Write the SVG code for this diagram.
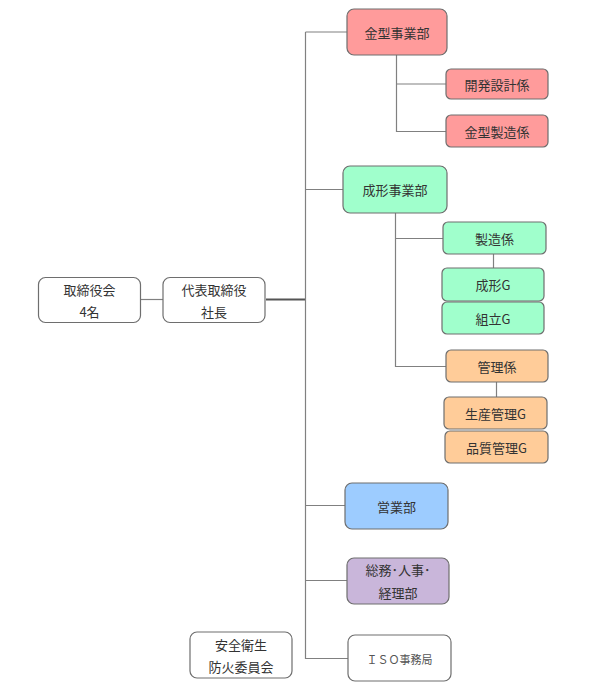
<svg xmlns="http://www.w3.org/2000/svg" width="590" height="691" viewBox="0 0 590 691">
<style>
.b{stroke:#6e6e6e;stroke-width:1.2}
.w{fill:#ffffff}
.r{fill:#ff9b9b}
.g{fill:#a0ffcc}
.o{fill:#ffcc99}
.u{fill:#9dccff}
.p{fill:#c9b6da}
text{font-family:"Noto Sans CJK JP","Noto Sans",sans-serif;font-size:13px;fill:#333;text-anchor:middle;dominant-baseline:central}
.c{fill:none;stroke:#808080;stroke-width:1.2}
</style>
<rect width="590" height="691" fill="#ffffff"/>
<g id="connectors">
<path class="c" d="M141 299.5H163"/>
<path d="M266 299.5H306" fill="none" stroke="#555" stroke-width="2"/>
<path class="c" d="M305.5 32V658.5H348"/>
<path class="c" d="M305.5 32H347"/>
<path class="c" d="M305.5 189.5H343"/>
<path class="c" d="M305.5 505.5H345"/>
<path class="c" d="M305.5 580.5H347"/>
<path class="c" d="M396.5 55V131.5H446M396.5 84H446"/>
<path class="c" d="M395.5 213V366.5H446M395.5 238.5H443"/>
<path class="c" d="M493.5 254V268"/>
<path class="c" d="M496.5 382V397"/>
</g>
<g id="n_torishimariyakukai"><rect class="b w" x="38.5" y="277.5" width="102" height="45" rx="7"/><text x="89.5" y="289">取締役会</text><text x="89.5" y="311">4名</text></g>
<g id="n_shacho"><rect class="b w" x="163" y="277.5" width="102" height="45" rx="7"/><text x="214" y="289">代表取締役</text><text x="214" y="311">社長</text></g>
<g id="n_kanagata"><rect class="b r" x="347" y="9" width="100" height="46" rx="7"/><text x="397" y="32">金型事業部</text></g>
<g id="n_kaihatsu"><rect class="b r" x="446" y="69" width="102" height="30" rx="5"/><text x="497" y="84">開発設計係</text></g>
<g id="n_kanagataseizo"><rect class="b r" x="446" y="115" width="102" height="32" rx="5"/><text x="497" y="131">金型製造係</text></g>
<g id="n_seikei"><rect class="b g" x="343" y="166" width="104" height="47" rx="7"/><text x="395" y="189.5">成形事業部</text></g>
<g id="n_seizo"><rect class="b g" x="443" y="222" width="103" height="32" rx="5"/><text x="494.5" y="238">製造係</text></g>
<g id="n_seikeiG"><rect class="b g" x="442" y="268" width="102" height="33" rx="5"/><text x="493" y="284.5">成形G</text></g>
<g id="n_kumitate"><rect class="b g" x="442" y="302" width="102" height="32" rx="5"/><text x="493" y="318">組立G</text></g>
<g id="n_kanri"><rect class="b o" x="446" y="350" width="102" height="32" rx="5"/><text x="497" y="366">管理係</text></g>
<g id="n_seisan"><rect class="b o" x="444" y="397" width="103" height="32" rx="5"/><text x="495.5" y="413">生産管理G</text></g>
<g id="n_hinshitsu"><rect class="b o" x="445" y="431" width="103" height="32" rx="5"/><text x="496.5" y="447">品質管理G</text></g>
<g id="n_eigyo"><rect class="b u" x="345" y="483" width="103" height="46" rx="7"/><text x="396.5" y="506">営業部</text></g>
<g id="n_somu"><rect class="b p" x="347" y="558" width="102" height="46" rx="7"/><text x="398" y="569">総務･人事･</text><text x="398" y="592">経理部</text></g>
<g id="n_iso"><rect class="b w" x="348" y="635" width="103" height="46" rx="7"/><text x="399.5" y="658.5" style="font-size:11px;fill:#555">ＩＳＯ事務局</text></g>
<g id="n_anzen"><rect class="b w" x="190" y="632" width="102" height="46" rx="7"/><text x="241" y="644">安全衛生</text><text x="241" y="666">防火委員会</text></g>
</svg>
